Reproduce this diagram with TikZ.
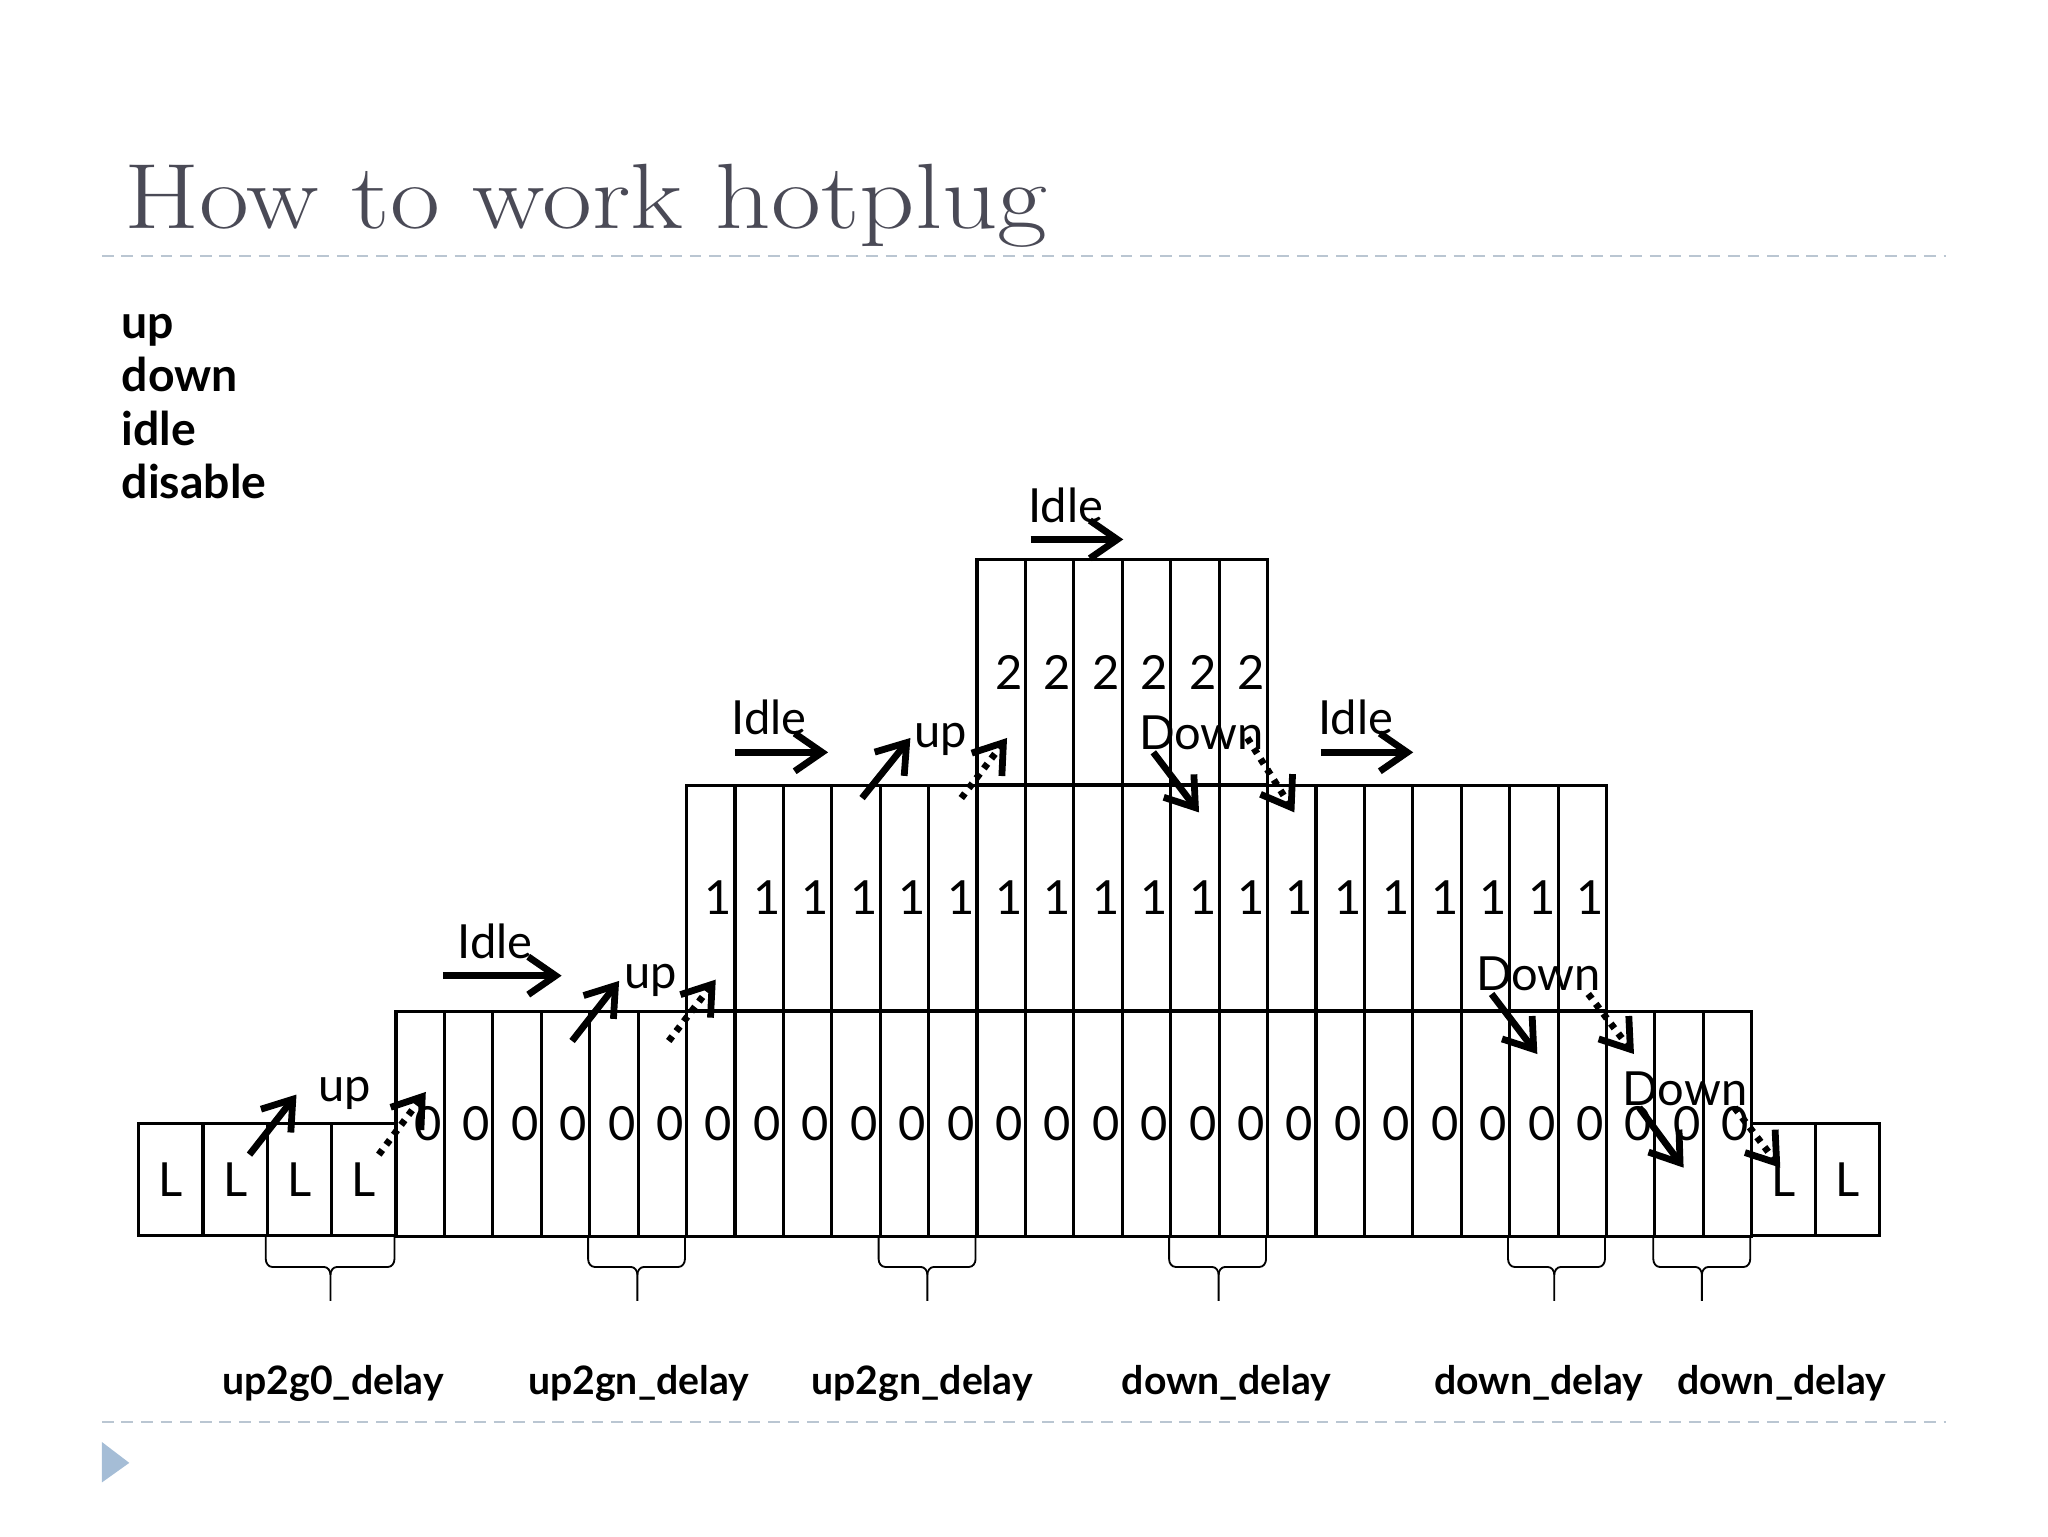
\documentclass[tikz,border=0pt]{standalone}
\usepackage{fontspec}
\newfontfamily\lato{Lato}
\usetikzlibrary{arrows.meta}
\definecolor{titlegray}{RGB}{74,74,86}
\definecolor{sepblue}{RGB}{186,198,210}
\definecolor{triblue}{RGB}{165,189,214}
\newcommand\hpbrace[3]{%
  \draw[brc] (#1,946) -- (#1,964) to[out=-90,in=180] (#1+5,970) -- (#3-5,970) to[out=0,in=90] (#3,976) -- (#3,996);
  \draw[brc] (#2,946) -- (#2,964) to[out=-90,in=0] (#2-5,970) -- (#3+5,970) to[out=180,in=90] (#3,976);}
\begin{document}
\begin{tikzpicture}[x=1pt,y=-1pt,
  cellbox/.style={draw, line width=2.4pt, inner sep=0pt, anchor=north west,
    minimum width=37.07pt, minimum height=172.7pt, font=\lato\fontsize{36}{40}\selectfont},
  lcell/.style={cellbox, minimum width=49.25pt, minimum height=86pt},
  arr/.style={line width=5.2pt, -{Straight Barb[length=21pt,width=29pt]}},
  darr/.style={arr, dash pattern=on 4.5pt off 5pt},
  lbl/.style={font=\lato\fontsize{36}{40}\selectfont, anchor=base, inner sep=0pt},
  blbl/.style={font=\lato\bfseries\fontsize{30}{34}\selectfont, anchor=base, inner sep=0pt},
  bullet/.style={font=\lato\bfseries\fontsize{35.5}{38}\selectfont, anchor=base west, inner sep=0pt},
  sep/.style={sepblue, line width=1.5pt, dash pattern=on 9pt off 6pt},
  brc/.style={line width=1.4pt}]
\useasboundingbox (0,0) rectangle (1568,1176);

% title and separators
\node[anchor=base west, inner sep=0pt, text=titlegray] (title) at (95,175)
  {\scalebox{1.17}[1]{\fontsize{71}{80}\selectfont\addfontfeatures{LetterSpace=3}How to work hotplug}};
\draw[sep] (78,196) -- (1490,196);
\draw[sep] (78,1089) -- (1490,1089);
\fill[triblue] (78,1104) -- (99,1120) -- (78,1135) -- cycle;

% bullet words
\node[bullet] (w1) at (93,259) {up};
\node[bullet] (w2) at (93,300) {down};
\node[bullet] (w3) at (93,341) {idle};
\node[bullet] (w4) at (93,382) {disable};

% L cells
\foreach \i in {0,...,3} \node[lcell] (l\i) at ({105+\i*49.25},859) {L};
\foreach \i in {0,1} \node[lcell, minimum width=49pt] (r\i) at ({1340+\i*49},859) {L};
% level 0
\foreach \i in {0,...,27} \node[cellbox] (z\i) at ({302+\i*37.07},773) {\hspace*{12pt}0};
% level 1
\foreach \i in {6,...,24} \node[cellbox] (o\i) at ({302+\i*37.07},600) {\hspace*{12pt}1};
% level 2
\foreach \i in {12,...,17} \node[cellbox] (t\i) at ({302+\i*37.07},427) {\hspace*{12pt}2};

% braces
\hpbrace{203.5}{302}{253}
\hpbrace{450.3}{524.4}{488}
\hpbrace{672.7}{746.9}{710}
\hpbrace{895.1}{969.3}{933}
\hpbrace{1154.6}{1228.8}{1190}
\hpbrace{1265.8}{1340}{1303}

% delay labels
\node[blbl] (d1) at (255,1068) {up2g0\_delay};
\node[blbl] (d2) at (489,1068) {up2gn\_delay};
\node[blbl] (d3) at (706,1068) {up2gn\_delay};
\node[blbl] (d4) at (939,1068) {down\_delay};
\node[blbl] (d5) at (1178,1068) {down\_delay};
\node[blbl] (d6) at (1364,1068) {down\_delay};

% arrow labels
\node[lbl] (u1) at (264,843) {up};
\node[lbl] (i1) at (379,734) {Idle};
\node[lbl] (u2) at (498,757) {up};
\node[lbl] (i2) at (589,562) {Idle};
\node[lbl] (u3) at (720,572) {up};
\node[lbl] (i3) at (816,400) {Idle};
\node[lbl] (dn1) at (920,574) {Down};
\node[lbl] (i4) at (1038,562) {Idle};
\node[lbl] (dn2) at (1178,758) {Down};
\node[lbl] (dn3) at (1290,846) {Down};

% arrow end points
\coordinate (a1s) at (191,884); \coordinate (a1e) at (227,838);
\coordinate (a2s) at (290,884); \coordinate (a2e) at (326,836);
\coordinate (h1s) at (339,747); \coordinate (h1e) at (430,747);
\coordinate (a3s) at (438,797); \coordinate (a3e) at (474,751);
\coordinate (a4s) at (512,797); \coordinate (a4e) at (548,750);
\coordinate (h2s) at (563,576); \coordinate (h2e) at (634,576);
\coordinate (a5s) at (660,611); \coordinate (a5e) at (697,565);
\coordinate (a6s) at (736,611); \coordinate (a6e) at (771,565);
\coordinate (h3s) at (789,413); \coordinate (h3e) at (860,413);
\coordinate (b1s) at (883,576); \coordinate (b1e) at (918,622);
\coordinate (b2s) at (955,565); \coordinate (b2e) at (991,622);
\coordinate (h4s) at (1011,576); \coordinate (h4e) at (1082,576);
\coordinate (b3s) at (1142,761); \coordinate (b3e) at (1177,807);
\coordinate (b4s) at (1216,761); \coordinate (b4e) at (1251,807);
\coordinate (b5s) at (1255,848); \coordinate (b5e) at (1289,894);
\coordinate (b6s) at (1328,848); \coordinate (b6e) at (1363,894);

\draw[arr] (a1s) -- (a1e);
\draw[darr] (a2s) -- (a2e);
\draw[arr] (h1s) -- (h1e);
\draw[arr] (a3s) -- (a3e);
\draw[darr] (a4s) -- (a4e);
\draw[arr] (h2s) -- (h2e);
\draw[arr] (a5s) -- (a5e);
\draw[darr] (a6s) -- (a6e);
\draw[arr] (h3s) -- (h3e);
\draw[arr] (b1s) -- (b1e);
\draw[darr] (b2s) -- (b2e);
\draw[arr] (h4s) -- (h4e);
\draw[arr] (b3s) -- (b3e);
\draw[darr] (b4s) -- (b4e);
\draw[arr] (b5s) -- (b5e);
\draw[darr] (b6s) -- (b6e);
\end{tikzpicture}
\end{document}
